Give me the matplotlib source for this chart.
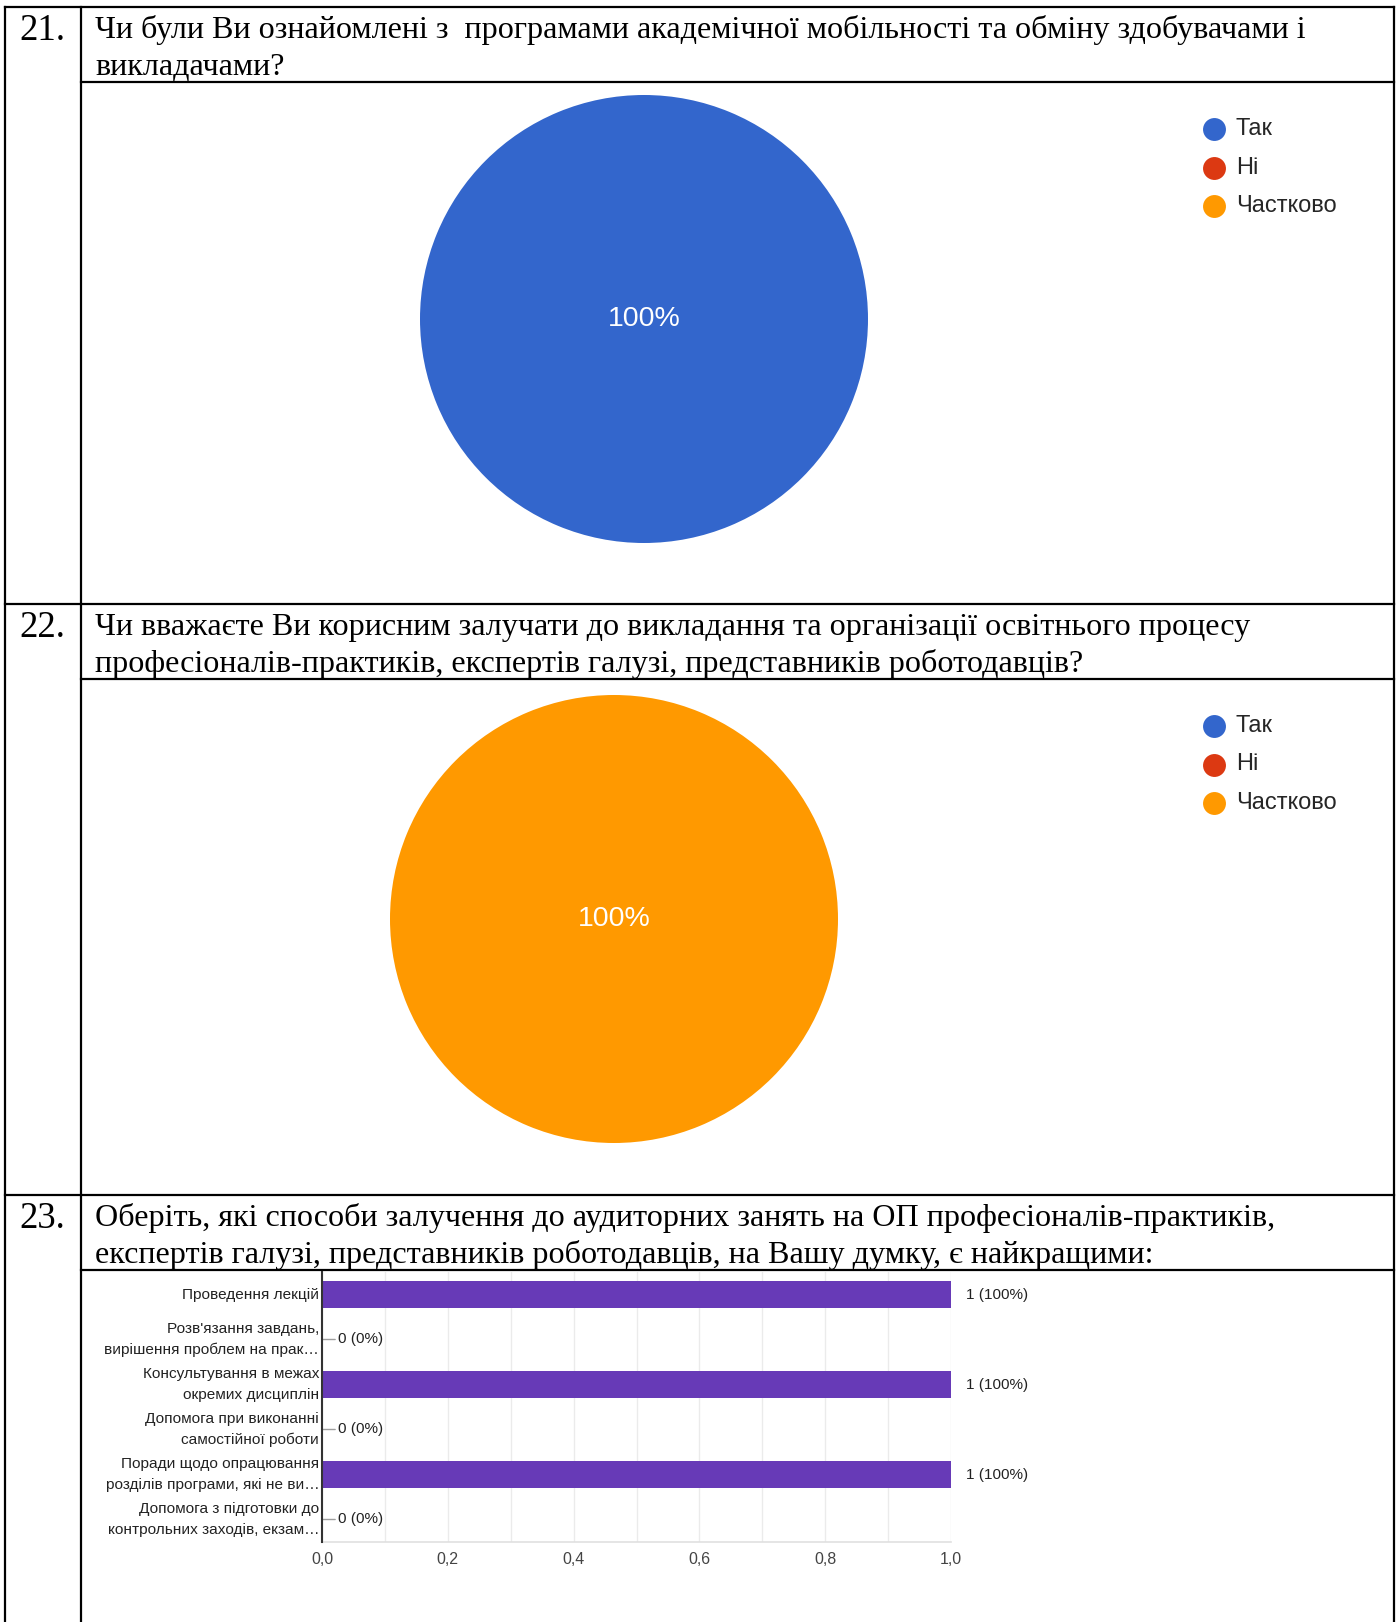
import matplotlib
matplotlib.use("Agg")
import matplotlib.pyplot as plt
import numpy as np

# ---------------- data ----------------
q_numbers = ["21.", "22.", "23."]
q21_title = ["Чи були Ви ознайомлені з  програмами академічної мобільності та обміну здобувачами і",
             "викладачами?"]
q22_title = ["Чи вважаєте Ви корисним залучати до викладання та організації освітнього процесу",
             "професіоналів-практиків, експертів галузі, представників роботодавців?"]
q23_title = ["Оберіть, які способи залучення до аудиторних занять на ОП професіоналів-практиків,",
             "експертів галузі, представників роботодавців, на Вашу думку, є найкращими:"]

pie_labels = ["Так", "Ні", "Частково"]
pie_colors = ["#3366CC", "#DC3912", "#FF9900"]
q21_values = [1, 0, 0]
q22_values = [0, 0, 1]

bar_categories = ["Проведення лекцій",
                  "Розв'язання завдань,\nвирішення проблем на прак…",
                  "Консультування в межах\nокремих дисциплін",
                  "Допомога при виконанні\nсамостійної роботи",
                  "Поради щодо опрацювання\nрозділів програми, які не ви…",
                  "Допомога з підготовки до\nконтрольних заходів, екзам…"]
bar_counts = [1, 0, 1, 0, 1, 0]
n_respondents = 1
bar_ticks = [0.0, 0.2, 0.4, 0.6, 0.8, 1.0]
bar_tick_labels = ["0,0", "0,2", "0,4", "0,6", "0,8", "1,0"]

# ---------------- layout ----------------
W, H = 1399, 1622
fig = plt.figure(figsize=(W / 100, H / 100), dpi=100)
fig.patch.set_facecolor("white")

def box(x0, y0, x1, y1):
    return [x0 / W, 1 - y1 / H, (x1 - x0) / W, (y1 - y0) / H]

ov = fig.add_axes([0, 0, 1, 1])
ov.set_xlim(0, W)
ov.set_ylim(H, 0)
ov.axis("off")

SERIF = "Liberation Serif"
SANS = "Liberation Sans"
lw = 1.6
L, C, R = 5, 81, 1394
section_tops = [7, 604, 1195]
titles = [q21_title, q22_title, q23_title]

# table lines
ov.plot([L, L], [section_tops[0], H], color="black", lw=lw)
ov.plot([C, C], [section_tops[0], H], color="black", lw=lw)
ov.plot([R, R], [section_tops[0], H], color="black", lw=lw)
for top, num, title in zip(section_tops, q_numbers, titles):
    ov.plot([L, R], [top, top], color="black", lw=lw)
    ov.plot([C, R], [top + 75, top + 75], color="black", lw=lw)
    ov.text(19, top + 33, num, fontsize=26.5, family=SERIF, va="baseline", ha="left")
    ov.text(95, top + 31, title[0], fontsize=23.1, family=SERIF, va="baseline", ha="left")
    ov.text(95, top + 68, title[1], fontsize=23.1, family=SERIF, va="baseline", ha="left")

# ---------------- pies ----------------
def draw_pie(cx, cy, r, values, legend_y):
    ax = fig.add_axes(box(cx - r, cy - r, cx + r, cy + r))
    ax.pie(values, colors=pie_colors, startangle=90, counterclock=False,
           wedgeprops=dict(linewidth=0),
           autopct=lambda p: f"{p:.0f}%" if p > 0 else "",
           pctdistance=0.0,
           textprops=dict(color="white", fontsize=20.5, family=SANS))
    ax.set_xlim(-1, 1)
    ax.set_ylim(-1, 1)
    ax.set_aspect("equal")
    ax.axis("off")
    for i, (lab, col) in enumerate(zip(pie_labels, pie_colors)):
        y = legend_y + i * 38.5
        ov.plot([1214], [y], "o", color=col, ms=16.5, mec="none")
        ov.text(1236, y, lab, fontsize=17, family=SANS, color="#262626",
                va="center", ha="left")

draw_pie(644, 319, 224, q21_values, 129)
draw_pie(614, 919, 224, q22_values, 726)

# ---------------- bar chart ----------------
ax3 = fig.add_axes(box(322, 1272, 951, 1542))
ypos = np.arange(len(bar_categories))
ax3.barh(ypos, bar_counts, height=0.6, color="#673AB7", zorder=3)
ax3.set_xlim(0, 1)
ax3.set_ylim(len(bar_categories) - 0.5, -0.5)
ax3.set_xticks(bar_ticks)
ax3.set_xticklabels(bar_tick_labels, fontsize=11.5, family=SANS, color="#444444")
ax3.set_xticks(np.arange(0.1, 1.0, 0.2), minor=True)
ax3.set_yticks(ypos)
ax3.set_yticklabels(bar_categories, fontsize=11.1, family=SANS, color="#222222",
                    linespacing=1.65, va="center")
ax3.tick_params(axis="both", which="both", length=0)
ax3.tick_params(axis="x", pad=7)
ax3.tick_params(axis="y", pad=2)
ax3.grid(True, axis="x", which="both", color="#ebebeb", lw=1, zorder=0)
for s in ["top", "right"]:
    ax3.spines[s].set_visible(False)
ax3.spines["left"].set_color("#333333")
ax3.spines["left"].set_linewidth(1.5)
ax3.spines["left"].set_zorder(4)
ax3.spines["bottom"].set_color("#e0e0e0")
ax3.spines["bottom"].set_linewidth(1.2)

for i, v in enumerate(bar_counts):
    pct = round(100 * v / n_respondents)
    label = f"{v} ({pct}%)"
    if v > 0:
        ax3.annotate(label, xy=(v, i), xytext=(11, 0), textcoords="offset points",
                     va="center", ha="left", fontsize=11, family=SANS, color="#222222")
    else:
        ax3.annotate(label, xy=(v, i), xytext=(11.5, 0), textcoords="offset points",
                     va="center", ha="left", fontsize=11, family=SANS, color="#222222",
                     arrowprops=dict(arrowstyle="-", color="#9e9e9e", lw=1,
                                     shrinkA=0, shrinkB=0))

fig.savefig("out.png", dpi=100, facecolor="white")
